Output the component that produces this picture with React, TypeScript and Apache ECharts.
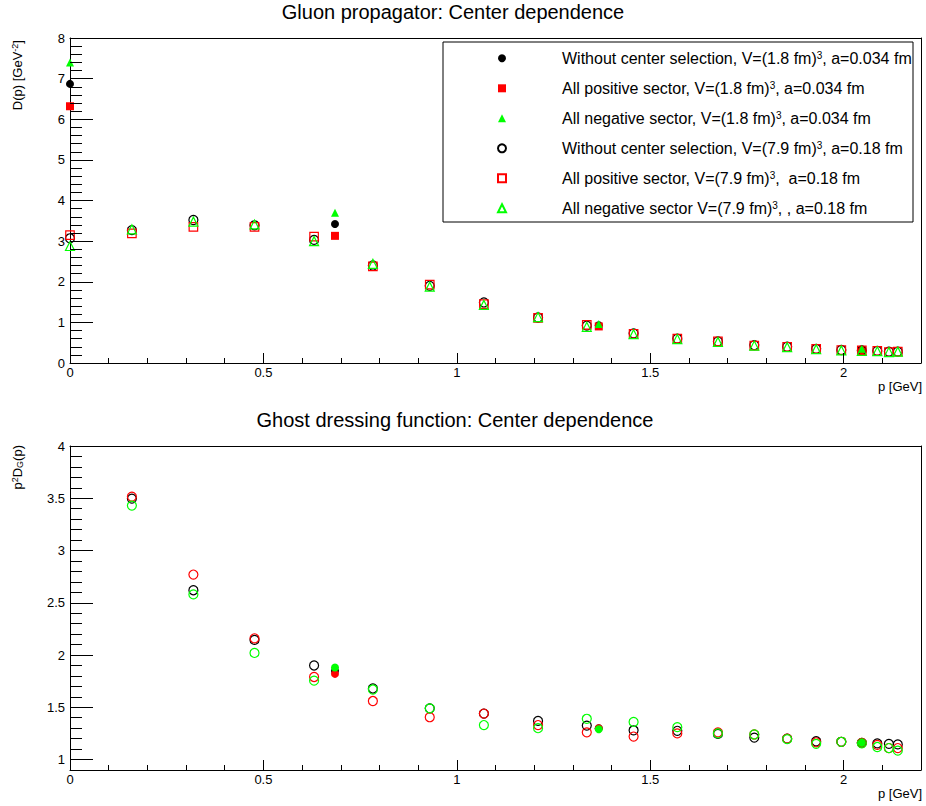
import React, { useEffect, useRef } from 'react';
import * as echarts from 'echarts';

// ---------- data ----------
// Gluon propagator, small volume V=(1.8 fm)^3, a=0.034 fm
const pSmall = [0, 0.685, 1.367, 2.047];
const gluonSmallNone = [6.87, 3.42, 0.93, 0.33];
const gluonSmallPos = [6.32, 3.13, 0.9, 0.31];
const gluonSmallNeg = [7.4, 3.7, 0.96, 0.35];

// Gluon propagator, large volume V=(7.9 fm)^3, a=0.18 fm
const pLarge = [0, 0.16, 0.319, 0.477, 0.631, 0.783, 0.93, 1.07, 1.21, 1.336, 1.457, 1.57, 1.675, 1.769, 1.854, 1.929, 1.994, 2.047, 2.087, 2.117, 2.14];
const gluonLargeNone = [3.07, 3.27, 3.52, 3.39, 3.03, 2.4, 1.9, 1.49, 1.12, 0.92, 0.73, 0.6, 0.53, 0.44, 0.4, 0.35, 0.32, 0.31, 0.3, 0.28, 0.28];
const gluonLargePos = [3.15, 3.19, 3.35, 3.35, 3.11, 2.38, 1.93, 1.45, 1.11, 0.94, 0.72, 0.6, 0.53, 0.43, 0.4, 0.35, 0.32, 0.31, 0.3, 0.27, 0.28];
const gluonLargeNeg = [2.88, 3.29, 3.48, 3.41, 3.0, 2.44, 1.88, 1.43, 1.13, 0.89, 0.71, 0.59, 0.52, 0.43, 0.39, 0.34, 0.31, 0.3, 0.29, 0.27, 0.28];

// Ghost dressing function
const pGhostLarge = [0.16, 0.319, 0.477, 0.631, 0.783, 0.93, 1.07, 1.21, 1.336, 1.457, 1.57, 1.675, 1.769, 1.854, 1.929, 1.994, 2.047, 2.087, 2.117, 2.14];
const ghostLargeNone = [3.497, 2.62, 2.145, 1.9, 1.68, 1.49, 1.44, 1.37, 1.325, 1.28, 1.275, 1.245, 1.21, 1.2, 1.175, 1.17, 1.16, 1.155, 1.15, 1.145];
const ghostLargePos = [3.516, 2.77, 2.16, 1.79, 1.56, 1.405, 1.44, 1.33, 1.26, 1.22, 1.25, 1.26, 1.24, 1.2, 1.165, 1.17, 1.16, 1.14, 1.11, 1.11];
const ghostLargeNeg = [3.43, 2.58, 2.02, 1.755, 1.67, 1.49, 1.33, 1.3, 1.39, 1.36, 1.31, 1.25, 1.24, 1.195, 1.15, 1.17, 1.155, 1.12, 1.11, 1.085];
const pGhostSmall = [0.685, 1.367, 2.047];
const ghostSmallNone = [1.85, 1.3, 1.16];
const ghostSmallPos = [1.82, 1.3, 1.16];
const ghostSmallNeg = [1.88, 1.29, 1.16];

// ---------- ticks ----------
const pMajorTicks = [0.5, 1, 1.5, 2];
const pMinorTicks = [0.1, 0.2, 0.3, 0.4, 0.6, 0.7, 0.8, 0.9, 1.1, 1.2, 1.3, 1.4, 1.6, 1.7, 1.8, 1.9, 2.1];
const gluonMajorTicks = [1, 2, 3, 4, 5, 6, 7];
const gluonMinorTicks = [0.2, 0.4, 0.6, 0.8, 1.2, 1.4, 1.6, 1.8, 2.2, 2.4, 2.6, 2.8, 3.2, 3.4, 3.6, 3.8, 4.2, 4.4, 4.6, 4.8, 5.2, 5.4, 5.6, 5.8, 6.2, 6.4, 6.6, 6.8, 7.2, 7.4, 7.6, 7.8];
const ghostMajorTicks = [1, 1.5, 2, 2.5, 3, 3.5, 4];
const ghostTickMarks = [1, 1.5, 2, 2.5, 3, 3.5];
const ghostMinorTicks = [1.1, 1.2, 1.3, 1.4, 1.6, 1.7, 1.8, 1.9, 2.1, 2.2, 2.3, 2.4, 2.6, 2.7, 2.8, 2.9, 3.1, 3.2, 3.3, 3.4, 3.6, 3.7, 3.8, 3.9];

const seriesNames = [
  'Without center selection, V=(1.8 fm)³, a=0.034 fm',
  'All positive sector, V=(1.8 fm)³, a=0.034 fm',
  'All negative sector, V=(1.8 fm)³, a=0.034 fm',
  'Without center selection, V=(7.9 fm)³, a=0.18 fm',
  'All positive sector, V=(7.9 fm)³,  a=0.18 fm',
  'All negative sector V=(7.9 fm)³, , a=0.18 fm',
];

const FONT = 'Liberation Sans, Arial, Helvetica, sans-serif';
const BLACK = '#000000';
const RED = '#ff0000';
const GREEN = '#00ff00';

const P_MIN = 0;
const P_MAX = 2.2;
const GLUON_MIN = 0;
const GLUON_MAX = 8;
const GHOST_MIN = 0.9;
const GHOST_MAX = 4;

const GRID_W = 851;
const GRID_H = [325, 324];
const Y_RANGE = [GLUON_MAX - GLUON_MIN, GHOST_MAX - GHOST_MIN];
const Y_MIN = [GLUON_MIN, GHOST_MIN];

const zip = (xs: number[], ys: number[]) => xs.map((x, i) => [x, ys[i]]);

export default function App() {
  const ref = useRef<HTMLDivElement>(null);

  useEffect(() => {
    if (!ref.current) return;
    const chart = echarts.init(ref.current, undefined, { renderer: 'svg' });

    const filled = (color: string) => ({ color, opacity: 1 });
    const open = (color: string) => ({ color: 'rgba(0,0,0,0)', borderColor: color, borderWidth: 1.2, opacity: 1 });
    const lineOn = { show: true, onZero: false, lineStyle: { color: BLACK, width: 1 } };
    const label = { fontSize: 13, color: BLACK, fontFamily: FONT };

    // pixel tick lengths converted to axis units, so the marks go through the axes' scales
    const xLenToData = (px: number) => (px * (P_MAX - P_MIN)) / GRID_W;
    const yLenToData = (g: number, px: number) => (px * Y_RANGE[g]) / GRID_H[g];

    // ROOT-style inward ticks drawn as mark lines
    const tickHolder = (g: number) => {
      const xMaj = pMajorTicks.map((v) => [{ coord: [v, Y_MIN[g]] }, { coord: [v, Y_MIN[g] + yLenToData(g, 10)] }]);
      const xMin = pMinorTicks.map((v) => [{ coord: [v, Y_MIN[g]] }, { coord: [v, Y_MIN[g] + yLenToData(g, 5)] }]);
      const yMajVals = g === 0 ? gluonMajorTicks : ghostTickMarks;
      const yMinVals = g === 0 ? gluonMinorTicks : ghostMinorTicks;
      const yMaj = yMajVals.map((v) => [{ coord: [P_MIN, v] }, { coord: [P_MIN + xLenToData(23), v] }]);
      const yMin = yMinVals.map((v) => [{ coord: [P_MIN, v] }, { coord: [P_MIN + xLenToData(12), v] }]);
      return {
        type: 'line', name: 'ticks' + g, xAxisIndex: g, yAxisIndex: g, data: [], silent: true, z: 10,
        showSymbol: false,
        markLine: {
          silent: true, symbol: ['none', 'none'], animation: false,
          label: { show: false },
          emphasis: { disabled: true },
          lineStyle: { color: BLACK, width: 1, type: 'solid', opacity: 1 },
          data: [...xMaj, ...xMin, ...yMaj, ...yMin],
        },
      };
    };

    const xLabels = (g: number) => ({
      type: 'value', gridIndex: g, min: P_MIN, max: P_MAX, interval: 0.5, position: 'bottom',
      axisLine: lineOn, axisTick: { show: false }, minorTick: { show: false },
      axisLabel: { ...label, showMaxLabel: false, margin: 3 },
      splitLine: { show: false },
    });
    const xFrame = (g: number) => ({
      type: 'value', gridIndex: g, min: P_MIN, max: P_MAX, position: 'top',
      axisLine: lineOn, axisTick: { show: false }, axisLabel: { show: false }, splitLine: { show: false },
    });
    const yFrame = (g: number, min: number, max: number) => ({
      type: 'value', gridIndex: g, min, max, position: 'right',
      axisLine: lineOn, axisTick: { show: false }, axisLabel: { show: false }, splitLine: { show: false },
    });

    const option: any = {
      animation: false,
      backgroundColor: '#ffffff',
      grid: [
        { left: 70, top: 38, width: GRID_W, height: GRID_H[0], show: false },
        { left: 70, top: 446, width: GRID_W, height: GRID_H[1], show: false },
      ],
      xAxis: [xLabels(0), xLabels(1), xFrame(0), xFrame(1)],
      yAxis: [
        {
          type: 'value', gridIndex: 0, min: GLUON_MIN, max: GLUON_MAX, interval: 1, position: 'left',
          axisLine: lineOn, axisTick: { show: false }, minorTick: { show: false },
          axisLabel: { ...label, margin: 5 }, splitLine: { show: false },
        },
        {
          type: 'value', gridIndex: 1, min: GHOST_MIN, max: GHOST_MAX, position: 'left',
          axisLine: lineOn, axisTick: { show: false },
          axisLabel: { ...label, margin: 5, customValues: ghostMajorTicks }, splitLine: { show: false },
        },
        yFrame(0, GLUON_MIN, GLUON_MAX),
        yFrame(1, GHOST_MIN, GHOST_MAX),
      ],
      legend: {
        data: seriesNames,
        orient: 'vertical',
        left: 497,
        top: 50.3,
        padding: 0,
        itemWidth: 8,
        itemHeight: 8,
        itemGap: 14,
        selectedMode: false,
        formatter: (name: string) => name.replace('³', '{sup|3}'),
        textStyle: {
          fontFamily: FONT,
          fontSize: 16,
          lineHeight: 16,
          color: BLACK,
          padding: [0, 0, 0, 51],
          rich: {
            sup: { fontFamily: FONT, fontSize: 10, lineHeight: 10, verticalAlign: 'top', color: BLACK },
          },
        },
      },
      graphic: [
        { type: 'rect', shape: { x: 443, y: 42, width: 470, height: 180 }, style: { fill: 'none', stroke: BLACK, lineWidth: 1 }, z: 5, silent: true },
        { type: 'text', x: 453, y: 12, style: { text: 'Gluon propagator: Center dependence', fontFamily: FONT, fontSize: 20, fill: BLACK, align: 'center', verticalAlign: 'middle' }, silent: true },
        { type: 'text', x: 455, y: 419.5, style: { text: 'Ghost dressing function: Center dependence', fontFamily: FONT, fontSize: 20, fill: BLACK, align: 'center', verticalAlign: 'middle' }, silent: true },
        { type: 'text', x: 922, y: 386, style: { text: 'p [GeV]', fontFamily: FONT, fontSize: 13, fill: BLACK, align: 'right', verticalAlign: 'middle' }, silent: true },
        { type: 'text', x: 922, y: 793, style: { text: 'p [GeV]', fontFamily: FONT, fontSize: 13, fill: BLACK, align: 'right', verticalAlign: 'middle' }, silent: true },
        {
          type: 'text', x: 17.5, y: 40, rotation: Math.PI / 2,
          style: {
            text: 'D(p) [GeV{sup|-2}]', fontFamily: FONT, fontSize: 13, lineHeight: 14, fill: BLACK, align: 'right', verticalAlign: 'middle',
            rich: { sup: { fontFamily: FONT, fontSize: 9, lineHeight: 9, verticalAlign: 'top', fill: BLACK } },
          },
          silent: true,
        },
        {
          type: 'text', x: 17.5, y: 445, rotation: Math.PI / 2,
          style: {
            text: 'p{sup|2}D{sub|G}(p)', fontFamily: FONT, fontSize: 13, lineHeight: 14, fill: BLACK, align: 'right', verticalAlign: 'middle',
            rich: {
              sup: { fontFamily: FONT, fontSize: 9, lineHeight: 9, verticalAlign: 'top', fill: BLACK },
              sub: { fontFamily: FONT, fontSize: 9, lineHeight: 9, verticalAlign: 'bottom', fill: BLACK },
            },
          },
          silent: true,
        },
      ],
      series: [
        tickHolder(0),
        tickHolder(1),
        // gluon, small volume (filled)
        { type: 'scatter', name: seriesNames[0], xAxisIndex: 0, yAxisIndex: 0, data: zip(pSmall, gluonSmallNone), symbol: 'circle', symbolSize: 8, itemStyle: filled(BLACK), silent: true },
        { type: 'scatter', name: seriesNames[1], xAxisIndex: 0, yAxisIndex: 0, data: zip(pSmall, gluonSmallPos), symbol: 'rect', symbolSize: 8, itemStyle: filled(RED), silent: true },
        { type: 'scatter', name: seriesNames[2], xAxisIndex: 0, yAxisIndex: 0, data: zip(pSmall, gluonSmallNeg), symbol: 'triangle', symbolSize: 8, itemStyle: filled(GREEN), silent: true },
        // gluon, large volume (open)
        { type: 'scatter', name: seriesNames[3], xAxisIndex: 0, yAxisIndex: 0, data: zip(pLarge, gluonLargeNone), symbol: 'circle', symbolSize: 9, itemStyle: open(BLACK), silent: true },
        { type: 'scatter', name: seriesNames[4], xAxisIndex: 0, yAxisIndex: 0, data: zip(pLarge, gluonLargePos), symbol: 'rect', symbolSize: 8.5, itemStyle: open(RED), silent: true },
        { type: 'scatter', name: seriesNames[5], xAxisIndex: 0, yAxisIndex: 0, data: zip(pLarge, gluonLargeNeg), symbol: 'triangle', symbolSize: 9, itemStyle: open(GREEN), silent: true },
        // ghost, large volume (open circles)
        { type: 'scatter', name: 'ghost none large', xAxisIndex: 1, yAxisIndex: 1, data: zip(pGhostLarge, ghostLargeNone), symbol: 'circle', symbolSize: 9, itemStyle: open(BLACK), silent: true },
        { type: 'scatter', name: 'ghost pos large', xAxisIndex: 1, yAxisIndex: 1, data: zip(pGhostLarge, ghostLargePos), symbol: 'circle', symbolSize: 9, itemStyle: open(RED), silent: true },
        { type: 'scatter', name: 'ghost neg large', xAxisIndex: 1, yAxisIndex: 1, data: zip(pGhostLarge, ghostLargeNeg), symbol: 'circle', symbolSize: 9, itemStyle: open(GREEN), silent: true },
        // ghost, small volume (filled circles)
        { type: 'scatter', name: 'ghost none small', xAxisIndex: 1, yAxisIndex: 1, data: zip(pGhostSmall, ghostSmallNone), symbol: 'circle', symbolSize: 8, itemStyle: filled(BLACK), silent: true },
        { type: 'scatter', name: 'ghost pos small', xAxisIndex: 1, yAxisIndex: 1, data: zip(pGhostSmall, ghostSmallPos), symbol: 'circle', symbolSize: 8, itemStyle: filled(RED), silent: true },
        { type: 'scatter', name: 'ghost neg small', xAxisIndex: 1, yAxisIndex: 1, data: zip(pGhostSmall, ghostSmallNeg), symbol: 'circle', symbolSize: 8, itemStyle: filled(GREEN), silent: true },
      ],
    };

    chart.setOption(option);
    return () => chart.dispose();
  }, []);

  return (
    <div
      ref={ref}
      style={{ position: 'absolute', left: 0, top: 0, width: 926, height: 806, background: '#fff' }}
    />
  );
}
